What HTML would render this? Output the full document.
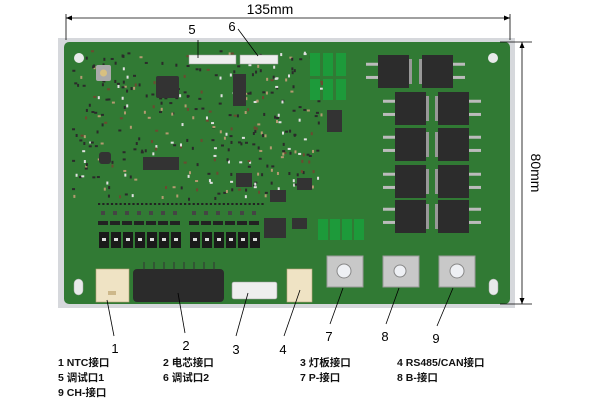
<!DOCTYPE html>
<html><head><meta charset="utf-8"><style>
html,body{margin:0;padding:0;background:#fff;width:600px;height:400px;overflow:hidden}
svg{display:block}
text{font-family:"Liberation Sans","Noto Sans CJK SC",sans-serif}
</style></head><body>
<svg id="s" width="600" height="400" viewBox="0 0 600 400" xmlns="http://www.w3.org/2000/svg">
<rect x="58" y="38" width="457" height="270" fill="#d6d8dc"/>
<rect x="64" y="42" width="446" height="262" rx="5" fill="#317a34"/>
<circle cx="79" cy="58" r="5" fill="#e8eaea"/>
<circle cx="493" cy="58" r="5" fill="#e8eaea"/>
<rect x="74" y="279" width="9" height="16" rx="4.5" fill="#e8eaea" stroke="#aaa" stroke-width="0.5"/>
<rect x="489" y="279" width="9" height="16" rx="4.5" fill="#e8eaea" stroke="#aaa" stroke-width="0.5"/>
<g id="smalls"></g>
<rect x="96" y="65" width="15" height="16" rx="2" fill="#aaa"/><circle cx="103.5" cy="73" r="3.5" fill="#d8c080"/>
<rect x="156" y="76" width="23" height="22" rx="2" fill="#333"/>
<rect x="143" y="157" width="36" height="13" fill="#333"/>
<rect x="233" y="74" width="13" height="32" fill="#333"/>
<rect x="236" y="173" width="16" height="14" fill="#333"/>
<rect x="264" y="218" width="22" height="20" fill="#333"/>
<rect x="270" y="190" width="16" height="12" fill="#333"/>
<rect x="292" y="218" width="15" height="11" fill="#333"/>
<rect x="297" y="178" width="15" height="12" fill="#333"/>
<rect x="327" y="110" width="15" height="22" fill="#333"/>
<rect x="99" y="152" width="12" height="12" rx="3" fill="#333"/>
<g id="rows"></g>
<g fill="#1d9a3a"><rect x="310" y="53" width="10" height="23"/><rect x="323" y="53" width="10" height="23"/><rect x="336" y="53" width="10" height="23"/>
<rect x="310" y="79" width="10" height="21"/><rect x="323" y="79" width="10" height="21"/><rect x="336" y="79" width="10" height="21"/>
<rect x="318" y="219" width="10" height="21"/><rect x="330" y="219" width="10" height="21"/><rect x="342" y="219" width="10" height="21"/><rect x="354" y="219" width="10" height="21"/></g>
<g id="mos"></g>
<rect x="189" y="55" width="47" height="9" fill="#eee" stroke="#999" stroke-width="0.5"/>
<rect x="240" y="55" width="38" height="9" fill="#eee" stroke="#999" stroke-width="0.5"/>
<rect x="96" y="269" width="33" height="33" fill="#efe3c4" stroke="#b9a57a" stroke-width="0.6"/>
<rect x="108" y="291" width="8" height="4" fill="#cdb88a"/>
<rect x="133" y="269" width="91" height="33" rx="4" fill="#2b2b2b"/>
<g stroke="#333" stroke-width="1"><line x1="144" y1="262" x2="144" y2="270"/><line x1="154" y1="262" x2="154" y2="270"/><line x1="164" y1="262" x2="164" y2="270"/><line x1="174" y1="262" x2="174" y2="270"/><line x1="184" y1="262" x2="184" y2="270"/><line x1="194" y1="262" x2="194" y2="270"/><line x1="204" y1="262" x2="204" y2="270"/><line x1="214" y1="262" x2="214" y2="270"/></g>
<rect x="232" y="282" width="45" height="17" rx="2" fill="#eee" stroke="#999" stroke-width="0.6"/>
<rect x="287" y="269" width="25" height="33" fill="#efe3c4" stroke="#b9a57a" stroke-width="0.6"/>
<g><rect x="327" y="256" width="36" height="31" fill="#c8c8c8" stroke="#999"/><circle cx="344" cy="271" r="7" fill="#eef0f4" stroke="#888"/>
<rect x="383" y="256" width="36" height="31" fill="#c8c8c8" stroke="#999"/><circle cx="400" cy="271" r="6" fill="#eef0f4" stroke="#888"/>
<rect x="439" y="256" width="36" height="31" fill="#c8c8c8" stroke="#999"/><circle cx="457" cy="271" r="7" fill="#eef0f4" stroke="#888"/></g>
<g stroke="#000" stroke-width="0.8" fill="none">
<line x1="66" y1="14" x2="66" y2="40"/><line x1="510" y1="14" x2="510" y2="40"/>
<line x1="66" y1="18" x2="510" y2="18"/>
<line x1="500" y1="42" x2="532" y2="42"/><line x1="500" y1="304" x2="532" y2="304"/>
<line x1="522" y1="42" x2="522" y2="304"/>
</g>
<g fill="#000"><path d="M66 18 l6 -2.5 v5z"/><path d="M510 18 l-6 -2.5 v5z"/><path d="M522 42 l-2.5 6 h5z"/><path d="M522 304 l-2.5 -6 h5z"/></g>
<text x="270" y="14" font-size="14" text-anchor="middle">135mm</text>
<text transform="translate(531,173) rotate(90)" font-size="14" text-anchor="middle">80mm</text>
<g stroke="#000" stroke-width="0.8">
<line x1="107" y1="300" x2="114" y2="336"/><line x1="178" y1="293" x2="185" y2="333"/>
<line x1="248" y1="293" x2="236" y2="336"/><line x1="300" y1="290" x2="284" y2="336"/>
<line x1="343" y1="288" x2="330" y2="324"/><line x1="399" y1="288" x2="386" y2="324"/>
<line x1="453" y1="288" x2="437" y2="326"/>
<line x1="198" y1="40" x2="198" y2="58"/><line x1="238" y1="29" x2="258" y2="56"/>
</g>
<g font-size="13" text-anchor="middle">
<text x="115" y="353">1</text><text x="186" y="350">2</text><text x="236" y="354">3</text><text x="283" y="354">4</text>
<text x="329" y="341">7</text><text x="385" y="341">8</text><text x="436" y="343">9</text>
<text x="192" y="34">5</text><text x="232" y="31">6</text>
</g>
<g font-size="10.5" font-weight="bold" fill="#111">
<text x="58" y="366">1 NTC接口</text><text x="163" y="366">2 电芯接口</text><text x="300" y="366">3 灯板接口</text><text x="397" y="366">4 RS485/CAN接口</text>
<text x="58" y="381">5 调试口1</text><text x="163" y="381">6 调试口2</text><text x="300" y="381">7 P-接口</text><text x="397" y="381">8 B-接口</text>
<text x="58" y="396">9 CH-接口</text>
</g>
<script>
(function(){
var ns="http://www.w3.org/2000/svg";
function r(g,x,y,w,h,f){var e=document.createElementNS(ns,"rect");e.setAttribute("x",x);e.setAttribute("y",y);e.setAttribute("width",w);e.setAttribute("height",h);e.setAttribute("fill",f);g.appendChild(e);}
var sm=document.getElementById("smalls");var seed=7;function rnd(){seed=(seed*16807)%2147483647;return seed/2147483647;}
var cols=["#2a2a2a","#2a2a2a","#2a2a2a","#6b4a30","#b49a70","#e0e0e0"];
for(var i=0;i<380;i++){var x=72+rnd()*250,y=50+rnd()*150;var c=cols[Math.floor(rnd()*cols.length)];if(rnd()<0.5)r(sm,x,y,3,2,c);else r(sm,x,y,2,3,c);}
var rw=document.getElementById("rows");
for(var x=98;x<262;x+=4.3)r(rw,x,203,2.2,2,"#222");
for(var k=0;k<13;k++){var xx=(k<7?100+k*12:191+(k-7)*12);r(rw,xx+1,211,4,4,"#444");r(rw,xx-2,221,10,4,"#222");r(rw,xx-1,232,10,16,"#1a1a1a");r(rw,xx+2,238,4,3,"#ddd");}
var m=document.getElementById("mos");
function mos(x,y,w,h,left){r(m,x,y,w,h,"#2c2c2c");for(var j=0;j<2;j++){var py=y+h*0.28+j*h*0.4;if(left)r(m,x-12,py-1.5,12,3,"#bbb");else r(m,x+w,py-1.5,12,3,"#bbb");}
r(m,left?x+w:x-3,y+4,3,h-8,"#999");}
mos(378,55,31,33,true);mos(422,55,31,33,false);
var ys=[92,128,165,200];for(var i=0;i<4;i++){mos(395,ys[i],31,33,true);mos(438,ys[i],31,33,false);}
})();
</script>
</svg>
</body></html>
